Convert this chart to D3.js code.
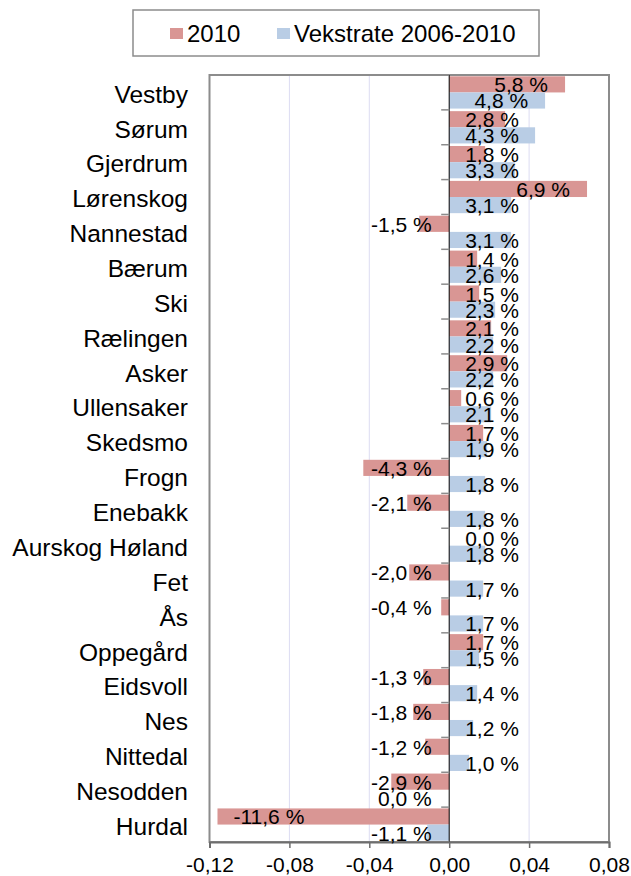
<!DOCTYPE html>
<html>
<head>
<meta charset="utf-8">
<script src="https://cdnjs.cloudflare.com/ajax/libs/d3/7.8.5/d3.min.js"></script>
<style>
    body { margin: 0; background: #fff; }
    text { font-family: "Liberation Sans", Arial, sans-serif; fill: #000; }
</style>
</head>
<body>
<svg id="chart" width="631" height="876"></svg>
<script>
'use strict';
var kommuner = ['Vestby', 'Sørum', 'Gjerdrum', 'Lørenskog', 'Nannestad', 'Bærum', 'Ski', 'Rælingen',
    'Asker', 'Ullensaker', 'Skedsmo', 'Frogn', 'Enebakk', 'Aurskog Høland', 'Fet', 'Ås', 'Oppegård',
    'Eidsvoll', 'Nes', 'Nittedal', 'Nesodden', 'Hurdal'];
var vekst2010 = [0.058, 0.028, 0.018, 0.069, -0.015, 0.014, 0.015, 0.021, 0.029, 0.006, 0.017, -0.043,
    -0.021, 0.000, -0.020, -0.004, 0.017, -0.013, -0.018, -0.012, -0.029, -0.116];
// Nesodden's 0,0 % sits on the negative side in the original, hence -0.0
var vekstrate0610 = [0.048, 0.043, 0.033, 0.031, 0.031, 0.026, 0.023, 0.022, 0.022, 0.021, 0.019, 0.018,
    0.018, 0.018, 0.017, 0.017, 0.015, 0.014, 0.012, 0.010, -0.0, -0.011];
var seriesNames = ['2010', 'Vekstrate 2006-2010'];
var xTicks = [-0.12, -0.08, -0.04, 0, 0.04, 0.08];

var colors = ['#D99694', '#B9CDE5'];
var series = [vekst2010, vekstrate0610];

var svg = d3.select('#chart');
var plot = {left: 209.5, right: 609, top: 75, bottom: 842};

var x = d3.scaleLinear().domain([-0.12, 0.08]).range([plot.left, plot.right]);
var y = d3.scaleBand().domain(kommuner).range([plot.top, plot.bottom]);
var ySub = d3.scaleBand().domain([0, 1]).range([0, y.bandwidth()]).paddingOuter(0.08);
var x0 = x(0);

function pct(v) {
    return (v * 100).toFixed(1).replace('.', ',') + ' %';
}
function isNeg(v) {
    return v < 0 || Object.is(v, -0);
}

// gridlines
svg.append('g').selectAll('line')
        .data(xTicks.filter(function (d) { return d !== 0; }))
        .enter().append('line')
        .attr('x1', function (d) { return x(d); })
        .attr('x2', function (d) { return x(d); })
        .attr('y1', plot.top)
        .attr('y2', plot.bottom)
        .attr('stroke', '#DCDCF2')
        .attr('stroke-width', 1);

// bars
series.forEach(function (values, s) {
    svg.append('g').selectAll('rect')
            .data(values)
            .enter().append('rect')
            .attr('x', function (d) { return Math.min(x(d), x0); })
            .attr('width', function (d) { return Math.abs(x(d) - x0); })
            .attr('y', function (d, i) { return y(kommuner[i]) + ySub(s); })
            .attr('height', ySub.bandwidth())
            .attr('fill', colors[s]);
});

// plot frame
svg.append('rect')
        .attr('x', plot.left)
        .attr('y', plot.top)
        .attr('width', plot.right - plot.left)
        .attr('height', plot.bottom - plot.top)
        .attr('fill', 'none')
        .attr('stroke', '#8C8C8C')
        .attr('stroke-width', 2);

// category axis at zero
svg.append('line')
        .attr('x1', x0).attr('x2', x0)
        .attr('y1', plot.top).attr('y2', plot.bottom)
        .attr('stroke', '#000').attr('stroke-width', 1);
var bounds = kommuner.map(function (k) { return y(k); }).concat([plot.bottom]);
svg.append('g').selectAll('line')
        .data(bounds)
        .enter().append('line')
        .attr('x1', x0 - 8).attr('x2', x0)
        .attr('y1', function (d) { return d; })
        .attr('y2', function (d) { return d; })
        .attr('stroke', '#8C8C8C')
        .attr('stroke-width', 1.5);

// category labels
svg.append('g').selectAll('text')
        .data(kommuner)
        .enter().append('text')
        .attr('x', 188)
        .attr('y', function (d) { return y(d) + y.bandwidth() / 2; })
        .attr('dy', '0.42em')
        .attr('text-anchor', 'end')
        .style('font-size', '24.5px')
        .text(function (d) { return d; });

// value axis
var xAxis = d3.axisBottom(x)
        .tickValues(xTicks)
        .tickSize(6)
        .tickFormat(function (d) { return d.toFixed(2).replace('.', ','); });
var gx = svg.append('g')
        .attr('transform', 'translate(0,' + plot.bottom + ')')
        .call(xAxis);
gx.select('.domain').attr('stroke', '#6E6E6E').attr('stroke-width', 2);
gx.selectAll('.tick line').attr('stroke', '#6E6E6E').attr('stroke-width', 1.5);
gx.selectAll('.tick text')
        .attr('y', 15)
        .style('font-size', '21px')
        .style('font-family', '"Liberation Sans", Arial, sans-serif')
        .attr('fill', '#000');

// data labels
series.forEach(function (values, s) {
    svg.append('g').selectAll('text')
            .data(values)
            .enter().append('text')
            .attr('y', function (d, i) { return y(kommuner[i]) + ySub(s) + ySub.bandwidth() / 2; })
            .attr('dy', '0.38em')
            .style('font-size', '21px')
            .text(function (d) { return pct(d); })
            .each(function (d) {
                var w = this.getComputedTextLength();
                var pos;
                if (isNeg(d)) {
                    pos = Math.min(x(d) + 16, x0 - 17.5 - w);
                } else {
                    pos = Math.max(x(d) - 17 - w, x0 + 16);
                }
                d3.select(this).attr('x', pos);
            });
});

// legend
var legend = svg.append('g');
legend.append('rect')
        .attr('x', 133).attr('y', 10)
        .attr('width', 406).attr('height', 46)
        .attr('fill', '#fff')
        .attr('stroke', '#8C8C8C')
        .attr('stroke-width', 1.5);
var legendX = [170, 277];
seriesNames.forEach(function (name, s) {
    legend.append('rect')
            .attr('x', legendX[s]).attr('y', 28)
            .attr('width', 13).attr('height', 11)
            .attr('fill', colors[s]);
    legend.append('text')
            .attr('x', legendX[s] + 17).attr('y', 42)
            .style('font-size', '24px')
            .text(name);
});
</script>
</body>
</html>
